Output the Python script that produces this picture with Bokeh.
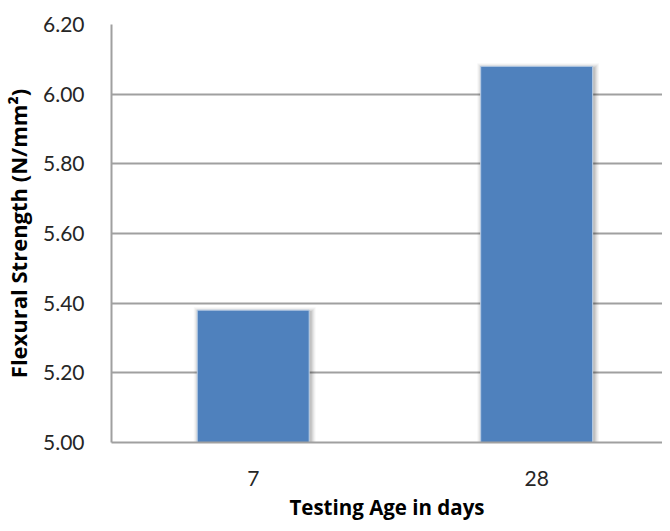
from bokeh.plotting import figure
from bokeh.models import Range1d, FixedTicker, NumeralTickFormatter
from bokeh.embed import file_html
from bokeh.resources import INLINE

# Data
categories = ["7", "28"]
strength = [5.38, 6.08]
y_ticks = [5.0, 5.2, 5.4, 5.6, 5.8, 6.0, 6.2]

xs = [i + 0.5 for i in range(len(categories))]
bar_w = 0.395
base = 5.0

p = figure(width=662, height=523, output_backend="svg", toolbar_location=None,
           x_range=Range1d(0, 1.944), y_range=Range1d(5.0, 6.2),
           min_border_left=109, min_border_right=0, min_border_top=24,
           min_border_bottom=77)
p.outline_line_color = None
p.background_fill_color = "white"
p.border_fill_color = "white"

# soft shadow layers
px_x = 1 / 284.5
px_y = 1 / 351.7
for k, a in [(5, 0.03), (4, 0.04), (3, 0.05), (2, 0.06), (1, 0.08)]:
    p.vbar(x=[x + 1.5 * px_x for x in xs], width=bar_w + 2 * k * px_x,
           bottom=base, top=[v + (k - 2) * px_y for v in strength],
           fill_color="black", fill_alpha=a, line_color=None)

p.vbar(x=xs, width=bar_w, bottom=base, top=strength,
       fill_color="#4F81BD", line_color="#b9cde5", line_width=1)

# grid
p.xgrid.visible = False
p.ygrid.ticker = FixedTicker(ticks=y_ticks)
p.ygrid.grid_line_color = "#a0a0a0"
p.ygrid.grid_line_width = 2

# y axis
p.yaxis.ticker = FixedTicker(ticks=y_ticks)
p.yaxis.formatter = NumeralTickFormatter(format="0.00")
p.yaxis.axis_label = "Flexural Strength (N/mm²)"
p.yaxis.axis_label_text_font = "Open Sans"
p.yaxis.axis_label_text_font_style = "bold"
p.yaxis.axis_label_text_font_size = "22px"
p.yaxis.axis_label_text_color = "black"
p.yaxis.axis_label_standoff = 7
p.yaxis.major_label_text_font = "Lato"
p.yaxis.major_label_text_font_size = "21px"
p.yaxis.major_label_text_color = "#262626"
p.yaxis.major_label_standoff = 21
p.yaxis.major_tick_line_color = None
p.yaxis.minor_tick_line_color = None
p.yaxis.axis_line_color = "#a0a0a0"
p.yaxis.axis_line_width = 2

# x axis
p.xaxis.ticker = FixedTicker(ticks=xs)
p.xaxis.major_label_overrides = {x: c for x, c in zip(xs, categories)}
p.xaxis.axis_label = "Testing Age in days"
p.xaxis.axis_label_text_font = "Open Sans"
p.xaxis.axis_label_text_font_style = "bold"
p.xaxis.axis_label_text_font_size = "20.5px"
p.xaxis.axis_label_text_color = "black"
p.xaxis.axis_label_standoff = 4
p.xaxis.major_label_text_font = "Lato"
p.xaxis.major_label_text_font_size = "21px"
p.xaxis.major_label_text_color = "#262626"
p.xaxis.major_label_standoff = 22
p.xaxis.major_tick_line_color = None
p.xaxis.minor_tick_line_color = None
p.xaxis.axis_line_color = "#a0a0a0"
p.xaxis.axis_line_width = 2

open("out.html", "w").write(file_html(p, INLINE))
